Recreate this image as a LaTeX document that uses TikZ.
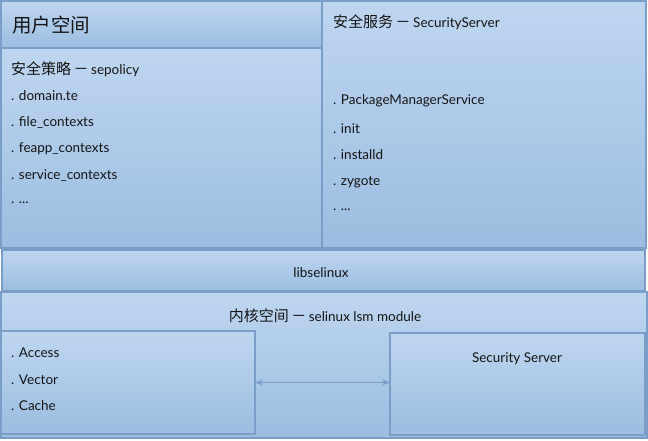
\documentclass[tikz,border=0pt]{standalone}
\usepackage{fontspec}
\setmainfont{Lato}
\newfontfamily\cjk{Noto Sans CJK SC}
\usetikzlibrary{positioning,arrows.meta}
\definecolor{boxtop}{RGB}{190,214,240}
\definecolor{boxbot}{RGB}{156,189,224}
\definecolor{boxline}{RGB}{122,158,199}
\definecolor{inktext}{RGB}{20,20,20}

\newcommand{\zh}[1]{{\cjk\fontsize{15}{17}\selectfont #1\,－\,}}

\tikzset{
    panel/.style={draw=boxline,line width=1.5pt,top color=boxtop,bottom color=boxbot,
        rectangle,anchor=north west,inner sep=0pt,outer sep=0pt},
    item/.style={anchor=west,inner sep=0pt,text=inktext,font=\fontsize{13.5}{16}\selectfont},
    link/.style={draw=boxline,line width=1.3pt,{Stealth[length=8pt,width=6pt]}-{Stealth[length=8pt,width=6pt]}},
}

\begin{document}
\begin{tikzpicture}[x=1pt,y=-1pt]
    \useasboundingbox (0,0) rectangle (648,440);

    % user space
    \node[panel,minimum width=321pt,minimum height=47pt] (head) at (1,1) {};
    \node[panel,minimum width=321pt,minimum height=200pt] (policy) at (1,48) {};
    \node[panel,minimum width=324pt,minimum height=247pt] (service) at (322,1) {};

    \node[item,font=\cjk\fontsize{19.5}{22}\selectfont] (headtext) at (12,25) {用户空间};

    % policy files
    \node[item] (pol) at (11,69) {\zh{安全策略}sepolicy};
    \node[item] (pol1) at (11,96) {. domain.te};
    \node[item] (pol2) at (11,122) {. file\_contexts};
    \node[item] (pol3) at (11,149) {. feapp\_contexts};
    \node[item] (pol4) at (11,176) {. service\_contexts};
    \node[item] (pol5) at (11,203) {. ...};

    % security services
    \node[item] (srv) at (333,22) {\zh{安全服务}SecurityServer};
    \node[item] (srv1) at (333,101) {. PackageManagerService};
    \node[item] (srv2) at (333,129) {. init};
    \node[item] (srv3) at (333,155) {. installd};
    \node[item] (srv4) at (333,182) {. zygote};
    \node[item] (srv5) at (333,210) {. ...};

    % libselinux
    \node[panel,minimum width=643pt,minimum height=41pt] (lib) at (2,250) {};
    \node[item,anchor=center] (libtext) at (321,273) {libselinux};

    % kernel space
    \node[panel,minimum width=646pt,minimum height=146pt] (kernel) at (1,292) {};
    \node[item,anchor=center] (kerneltext) at (325,316) {\zh{内核空间}selinux lsm module};

    \node[panel,minimum width=254pt,minimum height=103pt] (access) at (1,331) {};
    \node[item] (acc1) at (11,353) {. Access};
    \node[item] (acc2) at (11,380) {. Vector};
    \node[item] (acc3) at (11,406) {. Cache};

    \node[panel,minimum width=255pt,minimum height=102pt] (secsrv) at (390,333) {};
    \node[item,anchor=center] (secsrvtext) at (517,359) {Security Server};

    \draw[link] (access.east) -- (access.east -| secsrv.west);
\end{tikzpicture}
\end{document}
